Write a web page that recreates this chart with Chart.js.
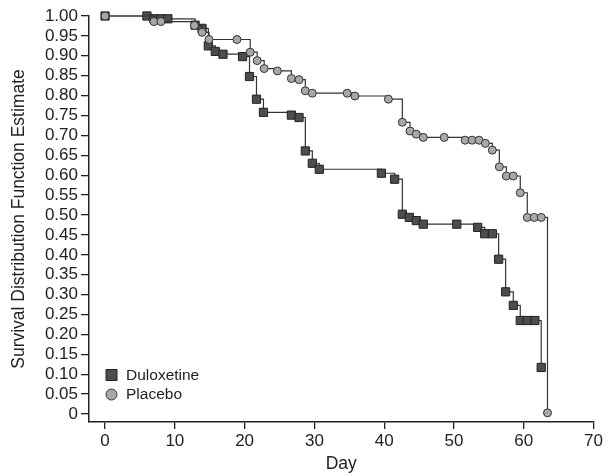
<!DOCTYPE html>
<html>
<head>
<meta charset="utf-8">
<script src="https://cdn.jsdelivr.net/npm/chart.js@4/dist/chart.umd.min.js"></script>
<style>
    html, body { margin: 0; padding: 0; background: #fff; }
    #wrap { width: 605px; height: 473px; }
</style>
</head>
<body>
<div id="wrap"><canvas id="myChart" width="605" height="473"></canvas></div>
<script>
// data
const duloxetineDays = [0, 6, 7, 8, 9, 12.9, 13.9, 14.8, 15.8, 16.9, 19.7, 20.7, 21.7, 22.7, 26.7, 27.8, 28.7, 29.7, 30.7, 39.6, 41.5, 42.6, 43.6, 44.6, 45.6, 50.4, 53.4, 54.4, 55.5, 56.4, 57.4, 58.5, 59.5, 60.5, 61.6, 62.5];
const duloxetineSurvival = [1.00, 1.00, 0.993, 0.993, 0.993, 0.977, 0.969, 0.925, 0.911, 0.904, 0.898, 0.848, 0.791, 0.758, 0.751, 0.745, 0.661, 0.630, 0.615, 0.605, 0.590, 0.502, 0.494, 0.486, 0.477, 0.477, 0.469, 0.453, 0.453, 0.389, 0.307, 0.273, 0.235, 0.235, 0.235, 0.117];

const placeboDays = [0, 7, 8, 12.8, 13.9, 14.9, 18.9, 20.8, 21.8, 22.8, 24.7, 26.7, 27.8, 28.7, 29.7, 34.7, 35.8, 40.6, 42.6, 43.7, 44.6, 45.6, 48.6, 51.6, 52.6, 53.6, 54.5, 55.5, 56.5, 57.5, 58.5, 59.5, 60.5, 61.5, 62.5, 63.4];
const placeboSurvival = [1.00, 0.986, 0.986, 0.976, 0.959, 0.941, 0.941, 0.909, 0.888, 0.868, 0.862, 0.843, 0.840, 0.812, 0.806, 0.806, 0.799, 0.791, 0.733, 0.711, 0.703, 0.695, 0.695, 0.688, 0.688, 0.688, 0.680, 0.663, 0.621, 0.598, 0.598, 0.556, 0.494, 0.494, 0.494, 0.003];

const xTicks = [0, 10, 20, 30, 40, 50, 60, 70];
const yTicks = [0, 0.05, 0.10, 0.15, 0.20, 0.25, 0.30, 0.35, 0.40, 0.45, 0.50, 0.55, 0.60, 0.65, 0.70, 0.75, 0.80, 0.85, 0.90, 0.95, 1.00];
const seriesNames = ['Duloxetine', 'Placebo'];

const FONT = "'Liberation Sans', Arial, sans-serif";
const INK = '#222';

function toPoints(days, values) {
    return days.map((d, i) => ({x: d, y: values[i]}));
}

// legend sits inside the plot, bottom left
const insideLegend = {
    id: 'insideLegend',
    afterDraw(chart) {
        const ctx = chart.ctx;
        const items = [chart.data.datasets[1], chart.data.datasets[0]];
        ctx.save();
        ctx.font = '15.5px ' + FONT;
        ctx.textBaseline = 'middle';
        items.forEach((ds, i) => {
            const cx = 111.5;
            const cy = 375 + i * 19.5;
            ctx.fillStyle = ds.pointBackgroundColor;
            ctx.strokeStyle = ds.pointBorderColor;
            ctx.lineWidth = 1;
            ctx.beginPath();
            if (ds.pointStyle === 'rect') {
                ctx.rect(cx - 5.5, cy - 5.5, 11, 11);
            } else {
                ctx.arc(cx, cy, 5.5, 0, Math.PI * 2);
            }
            ctx.fill();
            ctx.stroke();
            ctx.fillStyle = INK;
            ctx.fillText(ds.label, 126, cy + 0.5);
        });
        ctx.restore();
    }
};

const ctx = document.getElementById('myChart').getContext('2d');
const chart = new Chart(ctx, {
    type: 'line',
    data: {
        datasets: [{
            label: seriesNames[1],
            data: toPoints(placeboDays, placeboSurvival),
            stepped: 'before',
            borderColor: '#333',
            borderWidth: 1.2,
            pointStyle: 'circle',
            pointRadius: 4,
            pointBackgroundColor: '#a8a8a8',
            pointBorderColor: '#333',
            pointBorderWidth: 1,
            clip: false,
            order: 1
        }, {
            label: seriesNames[0],
            data: toPoints(duloxetineDays, duloxetineSurvival),
            stepped: 'before',
            borderColor: '#333',
            borderWidth: 1.2,
            pointStyle: 'rect',
            pointRadius: 5.8,
            pointBackgroundColor: '#4d4d4d',
            pointBorderColor: '#222',
            pointBorderWidth: 1,
            clip: false,
            order: 2
        }]
    },
    options: {
        responsive: false,
        animation: false,
        layout: {padding: {top: 16, right: 10, left: 0, bottom: 0}},
        plugins: {
            legend: {display: false},
            tooltip: {enabled: false}
        },
        scales: {
            x: {
                type: 'linear',
                min: -2.3,
                max: 70,
                afterFit: (scale) => { scale.height = 51; },
                afterBuildTicks: (scale) => { scale.ticks = xTicks.map(v => ({value: v})); },
                ticks: {
                    color: INK,
                    font: {family: FONT, size: 17},
                    padding: 2,
                    maxRotation: 0,
                    autoSkip: false
                },
                grid: {
                    display: true,
                    drawOnChartArea: false,
                    drawTicks: true,
                    tickLength: 7,
                    color: INK,
                    lineWidth: 1.3
                },
                border: {display: true, color: INK, width: 1.5},
                title: {
                    display: true,
                    text: 'Day',
                    color: INK,
                    font: {family: FONT, size: 17.5, lineHeight: 1},
                    padding: {top: 0, bottom: 0}
                }
            },
            y: {
                type: 'linear',
                min: -0.02,
                max: 1.0,
                afterFit: (scale) => { scale.width = 89; },
                afterBuildTicks: (scale) => { scale.ticks = yTicks.map(v => ({value: v})); },
                ticks: {
                    color: INK,
                    font: {family: FONT, size: 17},
                    padding: 3,
                    autoSkip: false,
                    callback: (v) => v === 0 ? '0' : v.toFixed(2)
                },
                grid: {
                    display: true,
                    drawOnChartArea: false,
                    drawTicks: true,
                    tickLength: 8,
                    color: INK,
                    lineWidth: 1.3
                },
                border: {display: true, color: INK, width: 1.5},
                title: {
                    display: true,
                    text: 'Survival Distribution Function Estimate',
                    color: INK,
                    font: {family: FONT, size: 17.5, lineHeight: 1.2},
                    padding: {top: 9, bottom: 0}
                }
            }
        }
    },
    plugins: [insideLegend]
});
</script>
</body>
</html>
